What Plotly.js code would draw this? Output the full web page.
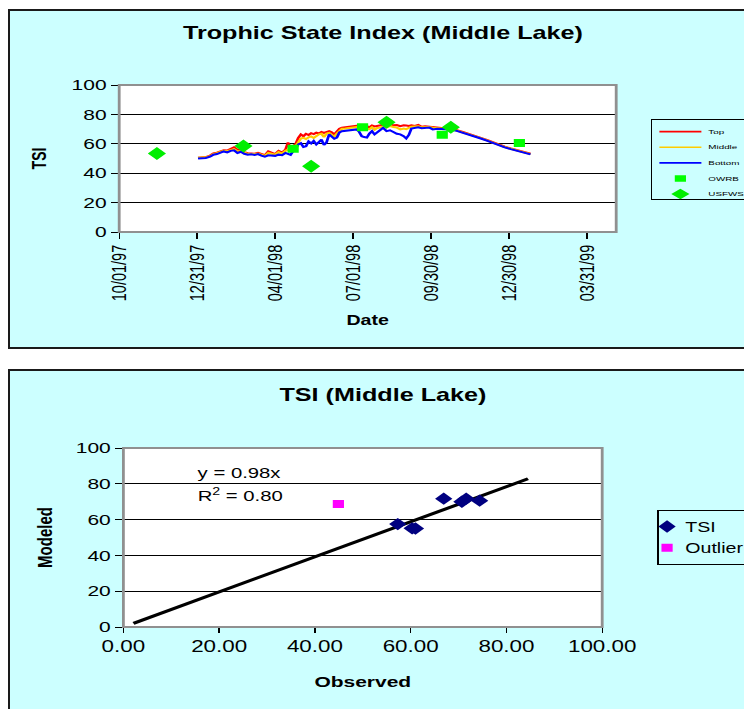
<!DOCTYPE html>
<html>
<head>
<meta charset="utf-8">
<script src="https://cdn.plot.ly/plotly-3.0.1.min.js"></script>
<style>
  html, body { margin: 0; padding: 0; background: #ffffff; overflow: hidden; width: 744px; height: 709px; }
  .panel { position: absolute; border: 2px solid #1a1a1a; background: #CCFFFF; overflow: hidden; }
  #p1 { left: 8px; top: 9px; width: 760px; height: 336px; }
  #p2 { left: 8px; top: 369px; width: 760px; height: 360px; }
  /* the reference picture is stretched horizontally; reproduce that stretch */
  .stretch { transform: scaleX(1.4); transform-origin: 0 0; }
  /* compact legend key spacing, as in the reference */
  #chart1 .legend .groups { transform: scaleY(0.82); }
  #chart1 .legend rect.bg { height: 80px; }
  #chart2 .legend .legendsymbols { transform: translateX(-14px); }
  #chart2 .legend text.legendtext { transform: translateX(-21px); }
</style>
</head>
<body>
<div class="panel" id="p1"><div id="chart1" class="stretch"></div></div>
<div class="panel" id="p2"><div id="chart2" class="stretch"></div></div>
<script>
// ---------- Chart 1 data: Trophic State Index (Middle Lake) ----------
const dates = [
 '1998-01-01','1998-01-06','1998-01-10','1998-01-15','1998-01-19','1998-01-23','1998-01-27','1998-01-31',
 '1998-02-04','1998-02-08','1998-02-12','1998-02-16','1998-02-20','1998-02-24','1998-02-28','1998-03-04',
 '1998-03-08','1998-03-12','1998-03-16','1998-03-20','1998-03-24','1998-03-28','1998-04-01','1998-04-05',
 '1998-04-09','1998-04-13','1998-04-16','1998-04-19','1998-04-22','1998-04-25','1998-04-28','1998-05-01',
 '1998-05-04','1998-05-07','1998-05-10','1998-05-13','1998-05-16','1998-05-19','1998-05-22','1998-05-25',
 '1998-05-28','1998-05-31','1998-06-03','1998-06-06','1998-06-09','1998-06-12','1998-06-15','1998-06-18',
 '1998-06-22','1998-06-26','1998-07-01','1998-07-05','1998-07-08','1998-07-11','1998-07-14','1998-07-17',
 '1998-07-20','1998-07-23','1998-07-26','1998-07-29','1998-08-02','1998-08-05','1998-08-09','1998-08-13',
 '1998-08-17','1998-08-21','1998-08-25','1998-08-29','1998-09-01','1998-09-04','1998-09-07','1998-09-11',
 '1998-09-15','1998-09-19','1998-09-23','1998-09-28','1998-10-02','1998-10-07','1998-10-12','1998-10-18',
 '1998-10-24','1998-10-30','1998-11-06','1998-11-13','1998-11-20','1998-11-27','1998-12-04','1998-12-11',
 '1998-12-18','1998-12-25','1999-01-01','1999-01-08','1999-01-15','1999-01-24'
];
const topTSI = [
 50.5,50.8,51.0,52.0,53.5,54.0,55.0,55.6,
 55.4,56.4,57.6,56.0,55.6,54.4,53.6,53.4,
 53.2,53.8,53.0,52.2,54.8,53.6,53.0,55.2,
 54.0,56.0,60.8,57.0,58.5,60.0,64.0,66.4,
 65.2,66.8,66.0,67.2,66.6,67.6,67.0,68.0,
 67.4,68.2,68.6,67.8,66.4,68.4,70.2,71.0,
 71.2,71.6,72.0,72.2,71.8,71.4,71.6,72.0,
 71.2,72.4,71.8,72.2,72.6,73.0,72.4,73.4,
 72.6,72.8,72.0,72.6,72.4,72.2,72.6,72.2,
 72.8,71.6,72.0,71.8,71.4,71.2,70.8,70.4,
 70.0,69.2,68.0,66.8,65.4,64.0,62.6,61.0,
 59.4,58.0,56.8,55.6,54.4,53.2
];
const middleTSI = [
 50.5,50.6,50.8,51.6,53.0,53.6,54.6,55.2,
 55.0,55.8,56.4,55.0,55.0,54.0,53.2,53.0,
 53.0,53.2,52.6,51.8,53.8,53.0,52.6,54.4,
 53.4,55.2,56.0,55.6,57.0,58.4,61.0,63.6,
 64.0,63.2,64.4,65.0,64.0,65.6,66.4,66.8,
 64.6,67.0,67.4,66.0,65.0,67.0,69.0,70.2,
 70.4,70.8,71.0,71.4,71.0,70.6,70.4,70.2,
 70.0,71.2,69.6,70.8,71.0,71.8,71.2,72.0,
 71.4,71.0,69.8,70.4,70.0,71.0,71.6,71.8,
 72.0,71.2,71.4,71.4,71.0,70.8,70.6,70.2,
 69.8,69.0,67.8,66.6,65.2,63.8,62.4,60.8,
 59.2,57.8,56.6,55.4,54.2,53.0
];
const bottomTSI = [
 50.0,50.2,50.4,51.2,52.6,53.0,54.2,54.8,
 54.2,55.2,55.6,53.8,54.6,53.2,52.6,52.8,
 52.4,53.0,52.0,51.2,52.2,52.0,51.8,52.6,
 52.2,53.8,53.2,52.4,55.0,56.6,59.6,60.4,
 57.8,58.4,61.6,60.2,62.0,59.6,61.2,62.8,
 59.2,61.0,66.4,65.2,63.4,64.2,67.8,68.6,
 69.0,69.4,69.6,69.8,68.2,65.2,64.6,64.2,
 67.0,68.6,66.4,67.6,69.8,70.8,68.6,69.2,
 68.0,66.8,66.4,65.2,63.6,66.0,70.4,70.6,
 71.2,70.6,70.8,71.0,69.8,70.2,70.0,69.8,
 69.6,68.8,67.6,66.4,65.0,63.6,62.2,60.6,
 59.0,57.6,56.4,55.2,54.0,52.8
];
const owrbDates  = ['1998-04-22','1998-07-12','1998-10-13','1999-01-11'];
const owrbTSI    = [56.6, 71.3, 66.2, 60.5];
const usfwsDates = ['1997-11-14','1998-02-23','1998-05-13','1998-08-09','1998-10-23'];
const usfwsTSI   = [53.4, 58.5, 44.8, 74.7, 71.2];
const dateTickVals = ['1997-10-01','1997-12-31','1998-04-01','1998-07-01','1998-09-30','1998-12-30','1999-03-31'];
const dateTickText = ['10/01/97','12/31/97','04/01/98','07/01/98','09/30/98','12/30/98','03/31/99'];

// ---------- Chart 2 data: TSI (Middle Lake) observed vs modeled ----------
const observedTSI = [57.3, 60.3, 61.0, 66.9, 70.7, 71.6, 74.4];
const modeledTSI  = [57.5, 55.1, 55.0, 71.7, 70.0, 71.7, 70.6];
const outlierObserved = [44.9];
const outlierModeled  = [68.7];
const trendSlope = 0.98;
const trendX = [2.1, 84.5];
const trendY = trendX.map(x => trendSlope * x);

const FONT = 'Arial, "Liberation Sans", Helvetica, sans-serif';
const BG = '#CCFFFF';
const W = 543; // unscaled width (scaled by 1.4 to 760)

// ---------- Chart 1 ----------
const traces1 = [
  {x: dates, y: topTSI, name: 'Top', type: 'scatter', mode: 'lines', line: {color: '#FF0000', width: 2}},
  {x: dates, y: middleTSI, name: 'Middle', type: 'scatter', mode: 'lines', line: {color: '#FFCC00', width: 2}},
  {x: dates, y: bottomTSI, name: 'Bottom', type: 'scatter', mode: 'lines', line: {color: '#0000FF', width: 2}},
  {x: owrbDates, y: owrbTSI, name: 'OWRB', type: 'scatter', mode: 'markers',
   marker: {symbol: 'square', color: '#00FF00', size: 8}},
  {x: usfwsDates, y: usfwsTSI, name: 'USFWS', type: 'scatter', mode: 'markers',
   marker: {symbol: 'diamond', color: '#00EE00', size: 10}}
];
const layout1 = {
  width: W, height: 336,
  margin: {l: 78, r: W - 433, t: 74, b: 115, autoexpand: false},
  paper_bgcolor: BG, plot_bgcolor: '#ffffff',
  font: {family: FONT, color: '#000000'},
  title: {text: 'Trophic State Index (Middle Lake)', font: {family: FONT, size: 18, weight: 'bold', color: '#000'},
          xref: 'container', yref: 'container', x: 0.4906, xanchor: 'center', y: 1 - 22/336, yanchor: 'middle'},
  xaxis: {
    type: 'date', range: ['1997-10-01', '1999-05-04'],
    tickmode: 'array', tickvals: dateTickVals, ticktext: dateTickText, tickangle: -90,
    tickfont: {family: FONT, size: 14.5}, ticks: 'outside', ticklen: 6, tickcolor: '#000',
    showgrid: false, zeroline: false, showline: true, linecolor: '#000', linewidth: 1,
    title: {text: 'Date', font: {family: FONT, size: 14, weight: 'bold'}, standoff: 14}
  },
  yaxis: {
    range: [0, 100], dtick: 20, tickfont: {family: FONT, size: 15},
    ticks: 'outside', ticklen: 5, tickcolor: '#000',
    showgrid: true, gridcolor: '#000', gridwidth: 1, zeroline: false,
    showline: true, linecolor: '#000', linewidth: 1,
    title: {text: 'TSI', font: {family: FONT, size: 14, weight: 'bold'}, standoff: 14}
  },
  shapes: [{type: 'rect', xref: 'paper', yref: 'paper', x0: 0, x1: 1, y0: 0, y1: 1,
            line: {color: '#909090', width: 2}, layer: 'above'}],
  legend: {x: 1.07, y: 0.769, xanchor: 'left', yanchor: 'top', bgcolor: BG,
           bordercolor: '#000', borderwidth: 1, font: {family: FONT, size: 7}, tracegroupgap: 0},
  showlegend: true
};

// ---------- Chart 2 ----------
const traces2 = [
  {x: trendX, y: trendY, type: 'scatter', mode: 'lines', line: {color: '#000000', width: 3},
   showlegend: false, hoverinfo: 'skip', name: 'Linear (TSI)'},
  {x: observedTSI, y: modeledTSI, name: 'TSI', type: 'scatter', mode: 'markers',
   marker: {symbol: 'diamond', color: '#000080', size: 9.5}},
  {x: outlierObserved, y: outlierModeled, name: 'Outlier', type: 'scatter', mode: 'markers',
   marker: {symbol: 'square', color: '#FF00FF', size: 8}}
];
const layout2 = {
  width: W, height: 360,
  margin: {l: 81, r: W - 423, t: 77, b: 104, autoexpand: false},
  paper_bgcolor: BG, plot_bgcolor: '#ffffff',
  font: {family: FONT, color: '#000000'},
  title: {text: 'TSI (Middle Lake)', font: {family: FONT, size: 18, weight: 'bold', color: '#000'},
          xref: 'container', yref: 'container', x: 0.4906, xanchor: 'center', y: 1 - 24/360, yanchor: 'middle'},
  xaxis: {
    range: [0, 100], dtick: 20, tickformat: '.2f', tickfont: {family: FONT, size: 16},
    ticks: 'outside', ticklen: 5, tickcolor: '#000',
    showgrid: false, zeroline: false, showline: true, linecolor: '#000', linewidth: 1,
    title: {text: 'Observed', font: {family: FONT, size: 15, weight: 'bold'}, standoff: 22}
  },
  yaxis: {
    range: [0, 100], dtick: 20, tickfont: {family: FONT, size: 15},
    ticks: 'outside', ticklen: 5, tickcolor: '#000',
    showgrid: true, gridcolor: '#000', gridwidth: 1, zeroline: false,
    showline: true, linecolor: '#000', linewidth: 1,
    title: {text: 'Modeled', font: {family: FONT, size: 15, weight: 'bold'}, standoff: 12}
  },
  shapes: [{type: 'rect', xref: 'paper', yref: 'paper', x0: 0, x1: 1, y0: 0, y1: 1,
            line: {color: '#909090', width: 2}, layer: 'above'}],
  annotations: [
    {x: 15, y: 86.1, xref: 'x', yref: 'y', text: 'y = 0.98x', showarrow: false,
     xanchor: 'left', yanchor: 'middle', font: {family: FONT, size: 14.5, color: '#000'}},
    {x: 15, y: 73.8, xref: 'x', yref: 'y', text: 'R<sup>2</sup> = 0.80', showarrow: false,
     xanchor: 'left', yanchor: 'middle', font: {family: FONT, size: 14.5, color: '#000'}}
  ],
  legend: {x: 1.115, y: 0.654, xanchor: 'left', yanchor: 'top', bgcolor: BG,
           bordercolor: '#000', borderwidth: 1, font: {family: FONT, size: 14}},
  showlegend: true
};

Plotly.newPlot('chart1', traces1, layout1, {staticPlot: true, displayModeBar: false});
Plotly.newPlot('chart2', traces2, layout2, {staticPlot: true, displayModeBar: false});
</script>
</body>
</html>
